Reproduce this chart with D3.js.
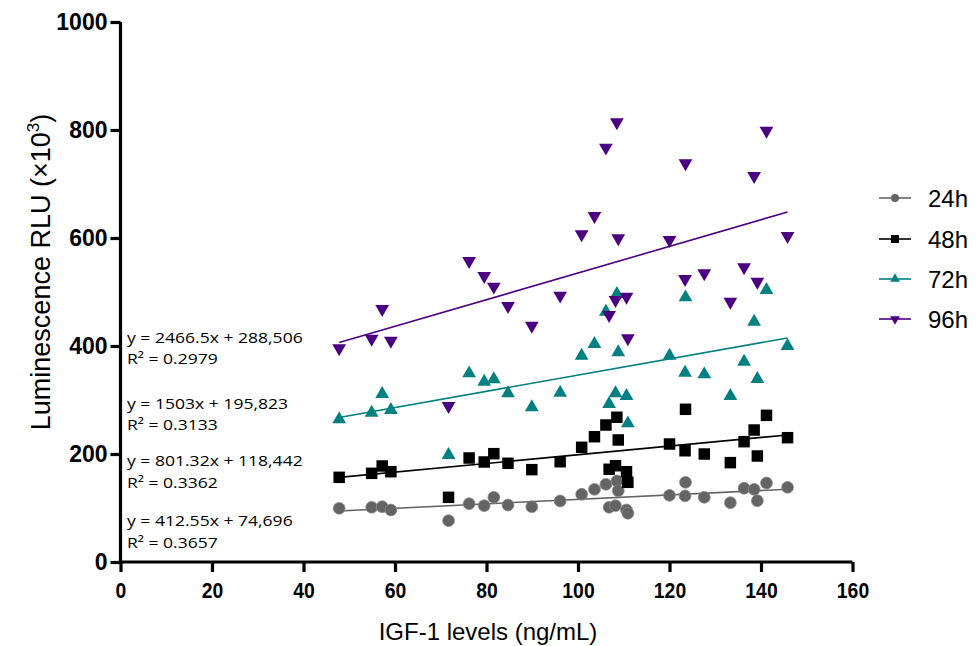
<!DOCTYPE html>
<html><head><meta charset="utf-8">
<script src="https://cdn.jsdelivr.net/npm/d3@7"></script>
<style>body{margin:0;background:#fff}svg{display:block}</style>
</head><body><svg id="c" width="977" height="646"></svg>
<script>
// ---- data ----
const seriesNames = ["24h", "48h", "72h", "96h"];
const xTicks = [0, 20, 40, 60, 80, 100, 120, 140, 160];
const yTicks = [0, 200, 400, 600, 800, 1000];
const igf = [47.8, 54.9, 57.2, 59.1, 71.7, 76.2, 79.5, 81.6, 84.7, 89.9, 96.1, 100.8, 103.6, 106.1, 106.8, 108.2, 108.5, 108.8, 110.6, 110.9, 120.0, 123.4, 123.5, 127.6, 133.3, 136.3, 138.5, 139.2, 141.2, 145.8];
const rlu24 = [99.4, 101.3, 102.4, 96.3, 76.5, 108.0, 104.3, 119.8, 105.6, 102.4, 113.0, 125.4, 134.6, 143.9, 101.3, 104.3, 150.0, 132.0, 96.3, 90.2, 123.5, 122.5, 147.6, 119.8, 109.8, 136.5, 134.6, 113.5, 146.3, 138.3];
const rlu48 = [156.8, 164.2, 177.8, 167.2, 119.8, 192.6, 185.2, 200.6, 182.8, 171.0, 185.7, 212.4, 232.0, 253.7, 171.7, 178.3, 268.0, 226.0, 167.2, 147.6, 218.5, 206.0, 282.8, 200.0, 184.0, 222.8, 244.4, 196.3, 271.6, 230.2];
const rlu72 = [264.2, 276.5, 311.1, 281.5, 198.1, 349.4, 333.9, 338.3, 312.4, 286.5, 313.5, 382.0, 403.7, 463.5, 292.6, 312.4, 496.3, 388.3, 307.4, 256.8, 382.0, 350.6, 490.1, 347.5, 307.4, 371.0, 445.0, 338.9, 503.7, 400.0];
const rlu96 = [395.7, 413.5, 468.5, 409.8, 288.9, 557.4, 529.6, 509.9, 474.0, 437.6, 493.2, 606.8, 640.7, 767.3, 457.4, 485.2, 814.2, 599.4, 491.3, 414.3, 596.3, 524.1, 738.3, 534.6, 482.0, 545.7, 714.8, 519.0, 798.7, 603.7];
// linear fits (RLU = slope*x + intercept), as printed
const slopes = [412.55, 801.32, 1503, 2466.5];
const intercepts = [74696, 118442, 195823, 288506];
const eqLabels = ["y = 412.55x + 74,696", "y = 801.32x + 118,442", "y = 1503x + 195,823", "y = 2466.5x + 288,506"];
const r2Labels = ["R² = 0.3657", "R² = 0.3362", "R² = 0.3133", "R² = 0.2979"];

// ---- styles ----
const colors = ["#646464", "#000000", "#008080", "#4B0082"];
const shapes = ["circle", "square", "up", "down"];
const values = [rlu24, rlu48, rlu72, rlu96];

const svg = d3.select("#c");
const x = d3.scaleLinear().domain([0, 160]).range([120.5, 852.5]);
const y = d3.scaleLinear().domain([0, 1000]).range([562, 22]);

function sym(shape, big) {
  if (shape === "circle") return d3.symbol(d3.symbolCircle, big ? 110 : 50)();
  if (shape === "square") return d3.symbol(d3.symbolSquare, big ? 132 : 64)();
  return d3.symbol(d3.symbolTriangle, big ? 82 : 42)();
}

// axes
const fontTick = "'Liberation Sans', Arial, sans-serif";
const yAxis = svg.append("g").attr("transform", `translate(${x(0)},0)`)
  .call(d3.axisLeft(y).tickValues(yTicks).tickFormat(d3.format("d")).tickSize(10).tickSizeOuter(0).tickPadding(3));
const xAxis = svg.append("g").attr("transform", `translate(0,${y(0)})`)
  .call(d3.axisBottom(x).tickValues(xTicks).tickFormat(d3.format("d")).tickSize(10).tickSizeOuter(0).tickPadding(10));
[yAxis, xAxis].forEach(g => {
  g.select(".domain").attr("stroke", "#000").attr("stroke-width", 3.2);
  g.selectAll(".tick line").attr("stroke", "#000").attr("stroke-width", 3.2);
  g.selectAll(".tick text").attr("fill", "#000").attr("font-family", fontTick)
    .attr("font-weight", "bold");
});
yAxis.selectAll(".tick text").attr("font-size", 23);
xAxis.selectAll(".tick text").attr("font-size", 22).attr("transform", "scale(0.88,1)");
yAxis.select(".domain").attr("d", `M0,${y(1000)}V${y(0) + 1.6}`);
xAxis.select(".domain").attr("d", `M${x(0) - 1.6},0H${x(160)}`);

// fit lines
values.forEach((vals, i) => {
  const x0 = d3.min(igf), x1 = d3.max(igf);
  const f = v => (slopes[i] * v + intercepts[i]) / 1000;
  svg.append("line")
    .attr("x1", x(x0)).attr("y1", y(f(x0)))
    .attr("x2", x(x1)).attr("y2", y(f(x1)))
    .attr("stroke", colors[i]).attr("stroke-width", 1.6);
});

// points
values.forEach((vals, i) => {
  svg.append("g").selectAll("path").data(vals).join("path")
    .attr("d", sym(shapes[i], true))
    .attr("transform", (d, j) => `translate(${x(igf[j])},${y(d)})` + (shapes[i] === "down" ? " rotate(180)" : ""))
    .attr("fill", colors[i])
    .attr("stroke", i === 0 ? "#8a8a8a" : "none").attr("stroke-width", 0.8);
});

// equations
const eqFont = "'Open Sans', 'Noto Sans', sans-serif";
const eqY = [[521, 543], [461, 483], [404, 425], [338, 359]];
eqLabels.forEach((t, i) => {
  svg.append("text").attr("transform", `translate(127,${eqY[i][0]}) scale(1.17,1)`).attr("dy", "0.35em")
    .attr("font-family", eqFont).attr("font-size", 15).attr("fill", "#000").text(t);
  svg.append("text").attr("transform", `translate(127,${eqY[i][1]}) scale(1.17,1)`).attr("dy", "0.35em")
    .attr("font-family", eqFont).attr("font-size", 15).attr("fill", "#000").text(r2Labels[i]);
});

// legend
const legY = [198, 239, 279, 319];
seriesNames.forEach((n, i) => {
  const g = svg.append("g").attr("transform", `translate(0,${legY[i]})`);
  g.append("line").attr("x1", 879).attr("x2", 911).attr("stroke", colors[i]).attr("stroke-width", 1.6);
  g.append("path").attr("d", sym(shapes[i], false))
    .attr("transform", `translate(895,0)` + (shapes[i] === "down" ? " rotate(180)" : ""))
    .attr("fill", colors[i]);
  g.append("text").attr("x", 928).attr("dy", "0.36em").attr("font-family", fontTick)
    .attr("font-size", 24).attr("fill", "#000").text(n);
});

// axis titles
svg.append("text").attr("x", 488).attr("y", 640).attr("text-anchor", "middle")
  .attr("font-family", fontTick).attr("font-size", 24).attr("fill", "#000")
  .text("IGF-1 levels (ng/mL)");
const yt = svg.append("text").attr("transform", "translate(50,272) rotate(-90)")
  .attr("text-anchor", "middle").attr("font-family", fontTick).attr("font-size", 27).attr("fill", "#000");
yt.append("tspan").text("Luminescence RLU (×10");
yt.append("tspan").attr("font-size", 17).attr("dy", -11).text("3");
yt.append("tspan").attr("dy", 11).text(")");
</script></body></html>
